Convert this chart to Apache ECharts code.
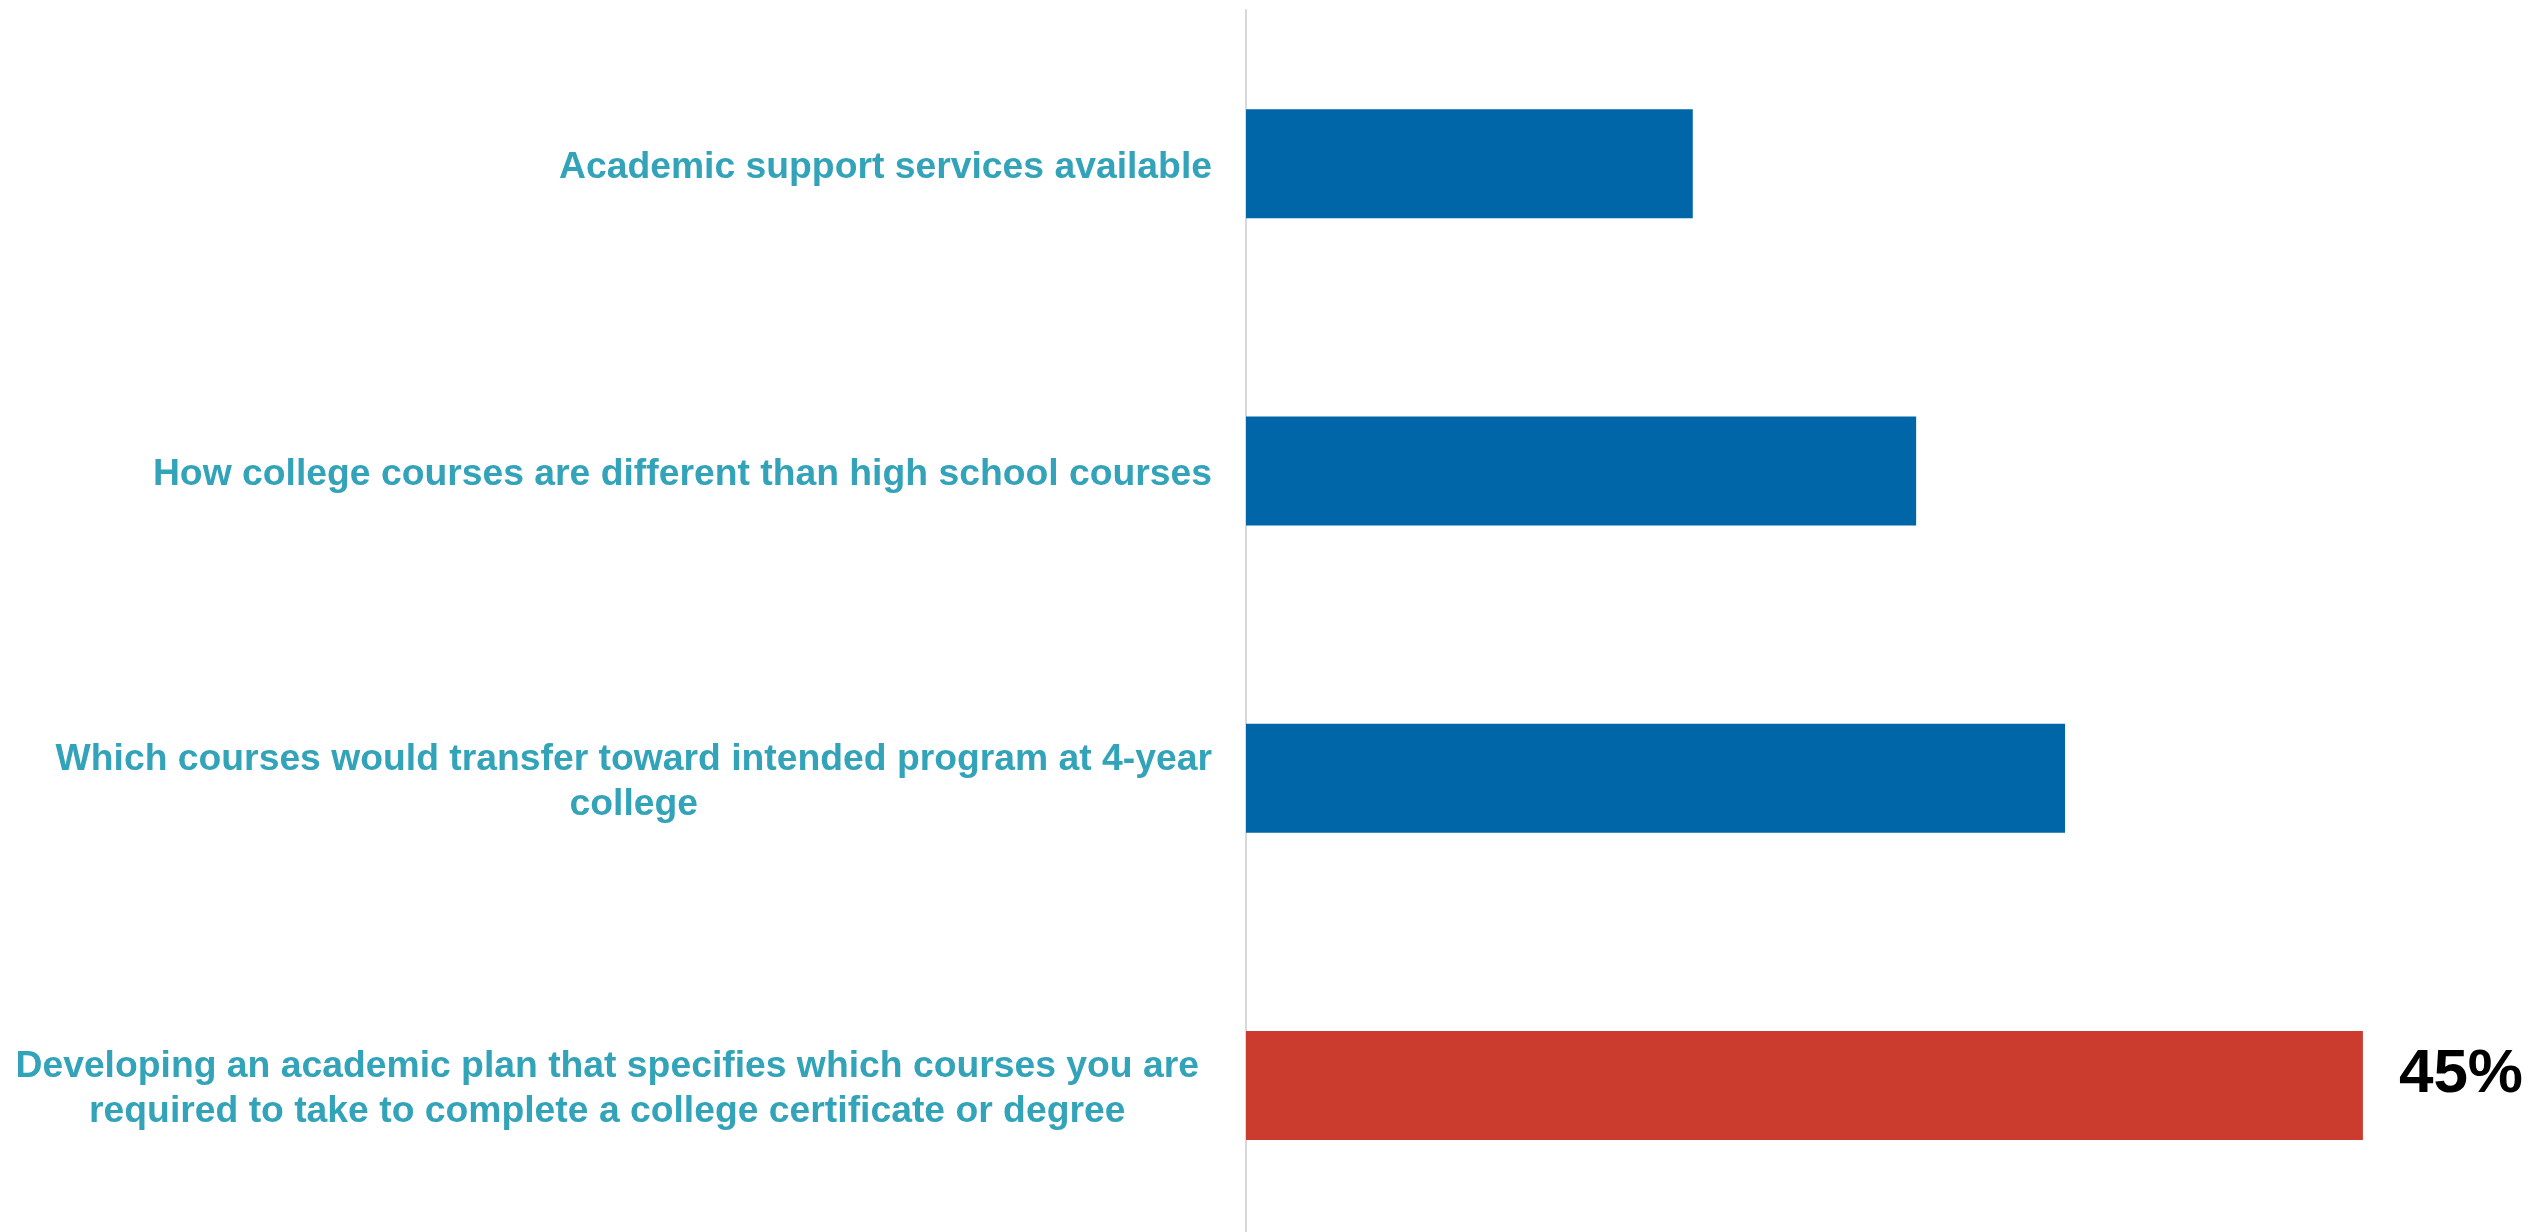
<!DOCTYPE html>
<html>
<head>
<meta charset="utf-8">
<script src="https://cdn.jsdelivr.net/npm/echarts@6/dist/echarts.min.js"></script>
<style>
html,body{margin:0;padding:0;background:#fff;}
#chart{width:2528px;height:1232px;}
</style>
</head>
<body>
<div id="chart"></div>
<script>
const categories = [
  "Academic support services available",
  "How college courses are different than high school courses",
  "Which courses would transfer toward intended program at 4-year\ncollege",
  "Developing an academic plan that specifies which courses you are\nrequired to take to complete a college certificate or degree"
];
const values = [18, 27, 33, 45];
const barColors = ["#0066A8", "#0066A8", "#0066A8", "#CB3C2F"];
const shownLabels = [false, false, false, true];

const labelFont = {
  fontFamily: '"Liberation Sans", Arial, sans-serif',
  fontWeight: 'bold',
  fontSize: 37.3,
  lineHeight: 45,
  color: '#32A3B8'
};

const chart = echarts.init(document.getElementById('chart'), null, {renderer: 'canvas'});
chart.setOption({
  animation: false,
  backgroundColor: '#ffffff',
  grid: {left: 1246, top: 10, width: 1241, height: 1229, containLabel: false, outerBoundsMode: 'none'},
  xAxis: {
    type: 'value', min: 0, max: 50, show: false
  },
  yAxis: {
    type: 'category',
    inverse: true,
    data: categories,
    axisLine: {show: true, lineStyle: {color: '#D9D9D9', width: 2}},
    axisTick: {show: false},
    splitLine: {show: false},
    axisLabel: Object.assign({
      margin: 34,
      align: 'right',
      interval: 0,
      padding: [8, 0, 0, 0],
      formatter: function (v, idx) {
        const key = idx === 3 ? 'd' : 'c';
        return v.split('\n').map(function (l) { return '{' + key + '|' + l + '}'; }).join('\n');
      },
      rich: {
        c: Object.assign({align: 'center'}, labelFont),
        d: Object.assign({align: 'center', padding: [0, 13, 0, 0]}, labelFont)
      }
    }, labelFont)
  },
  series: [{
    type: 'bar',
    barWidth: 109,
    data: values.map(function (v, i) {
      return {
        value: v,
        itemStyle: {color: barColors[i]},
        label: {
          show: shownLabels[i],
          position: 'right',
          distance: 36,
          offset: [0, -10],
          formatter: '{c}%',
          fontFamily: '"Liberation Sans", Arial, sans-serif',
          fontWeight: 'bold',
          fontSize: 62,
          color: '#000000'
        }
      };
    })
  }]
});
</script>
</body>
</html>
